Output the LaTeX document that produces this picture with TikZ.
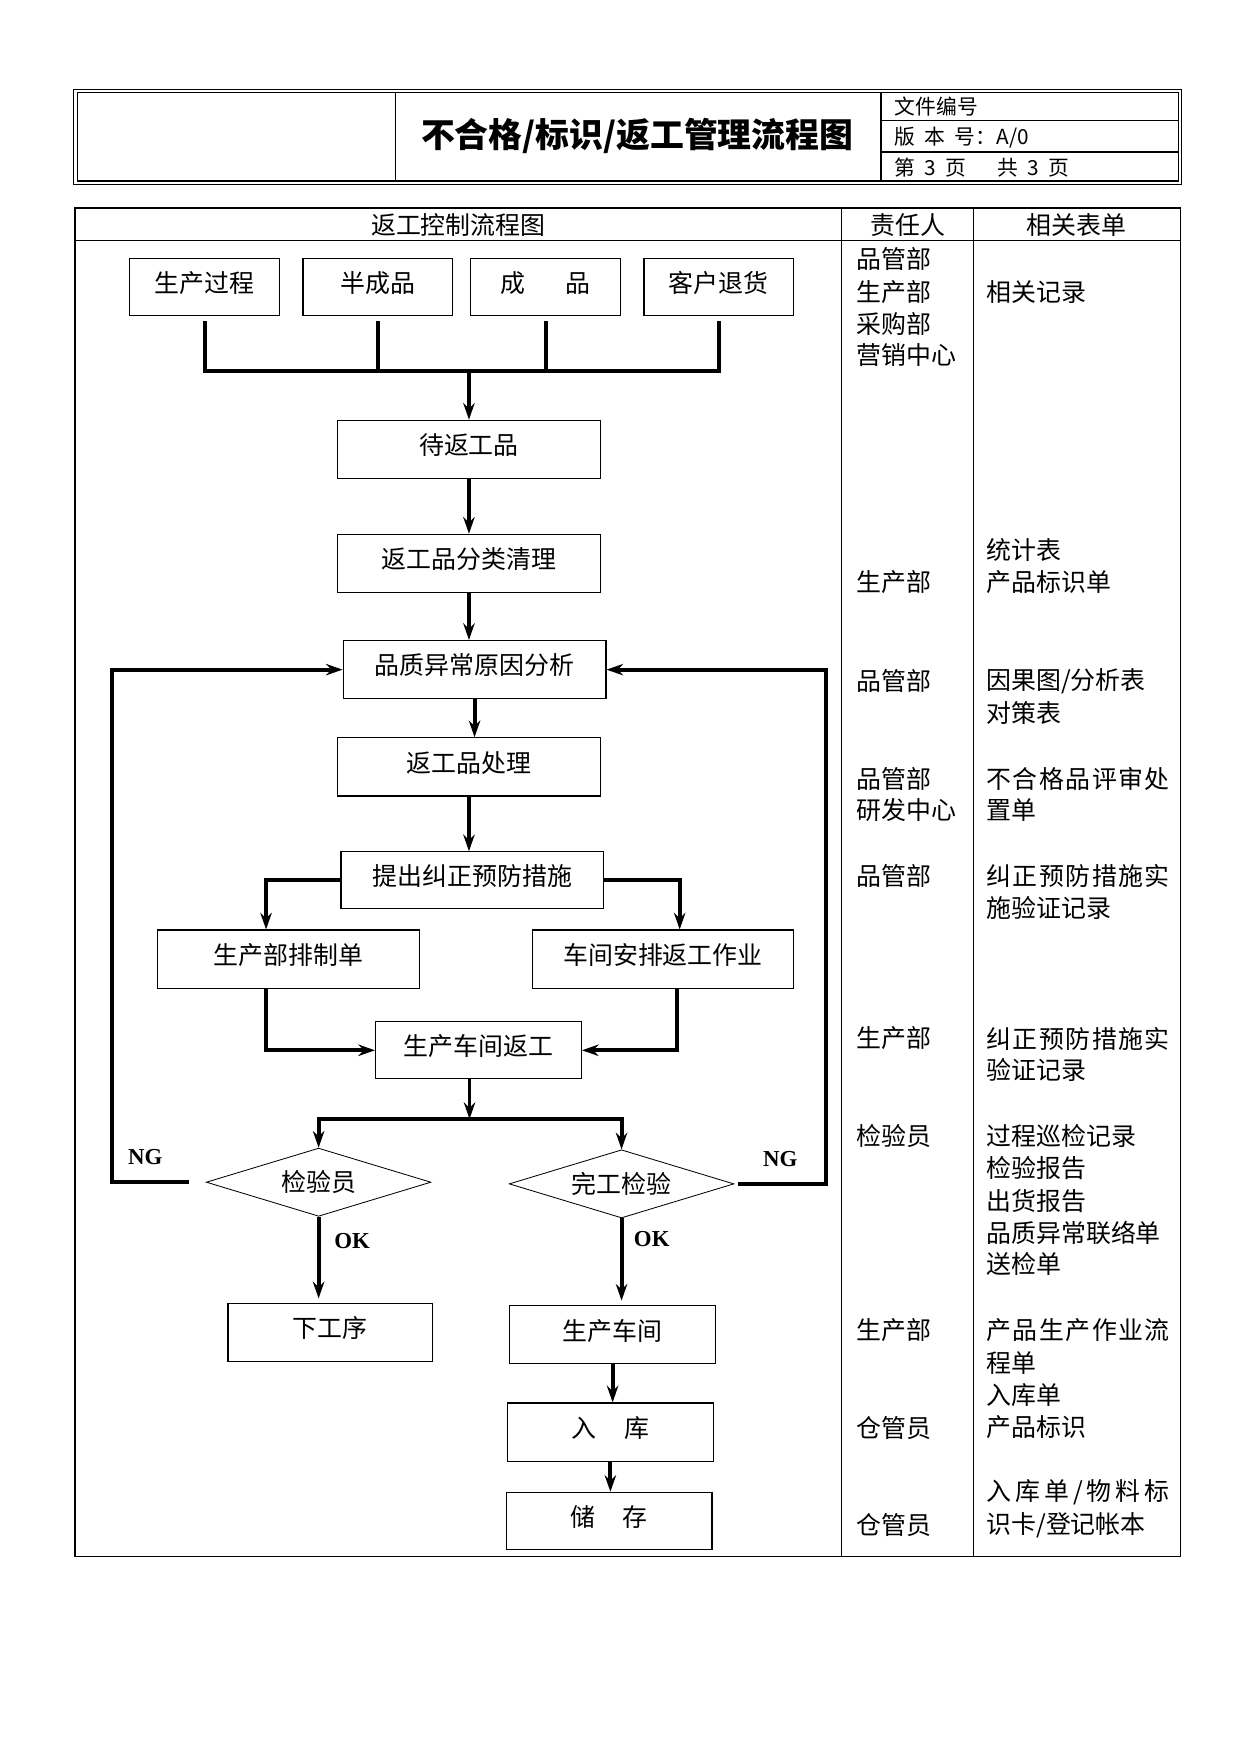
\documentclass[tikz,border=0pt]{standalone}
\usepackage{fontspec}
\setmainfont{Noto Sans CJK SC}
\newfontfamily\latinserif{Liberation Serif}
\newfontfamily\widecjk[LetterSpace=6]{Noto Sans CJK SC}
\newfontfamily\widercjk[LetterSpace=16]{Noto Sans CJK SC}
\usetikzlibrary{arrows.meta,shapes.geometric}
\newdimen\pxu
\pxu=0.018919cm
\tikzset{
    box/.style 2 args={
        draw,
        line width=0.6pt,
        inner sep=0pt,
        minimum width=#1*\pxu,
        minimum height=#2*\pxu,
        text depth=5pt,
        font=\fontsize{12}{14}\selectfont
    },
    check/.style={
        draw,
        diamond,
        aspect=3.3,
        line width=0.4pt,
        inner sep=0pt,
        minimum width=201*\pxu,
        minimum height=61*\pxu,
        font=\fontsize{12}{14}\selectfont
    },
    flow/.style={line width=1.9pt},
    arr/.style={flow, -{Stealth[length=8pt, width=5.5pt]}},
    arrboth/.style={flow, {Stealth[length=8pt, width=5.5pt]}-{Stealth[length=8pt, width=5.5pt]}},
    tag/.style={font=\latinserif\bfseries\fontsize{11}{13}\selectfont},
    cell/.style={anchor=west, inner sep=0pt, font=\fontsize{12}{14}\selectfont},
    info/.style={anchor=west, inner sep=0pt, font=\fontsize{10}{12}\selectfont}
}

\begin{document}
\begin{tikzpicture}[x=0.018919cm, y=-0.018919cm]
    \useasboundingbox (0,0) rectangle (1110,1569);

    % Header block
    \draw[line width=0.6pt] (66,80) rectangle (1057,165);
    \draw[line width=0.6pt] (69,83) rectangle (1054,162);
    \draw[line width=0.6pt] (354,83) -- (354,162) (788,83) -- (788,162)
        (788,108) -- (1054,108) (788,136) -- (1054,136);
    \node[font=\bfseries\fontsize{16.3}{20}\selectfont] (title) at (570,122) {不合格/标识/返工管理流程图};
    \node[info] (docno) at (800,95) {文件编号};
    \node[info] (ver) at (800,123) {版\hspace{0.45em}本\hspace{0.45em}号：A/0};
    \node[info] (page) at (800,150) {第\hspace{0.45em}3\hspace{0.45em}页\hspace{1.5em}共\hspace{0.45em}3\hspace{0.45em}页};

    % Table frame
    \draw[line width=0.6pt] (67,186) rectangle (1056,1392);
    \draw[line width=0.6pt] (67,215) -- (1056,215) (753,186) -- (753,1392) (871,186) -- (871,1392);
    \node[cell, anchor=center] (hflow) at (410,201) {返工控制流程图};
    \node[cell, anchor=center] (hresp) at (812,201) {责任人};
    \node[cell, anchor=center] (hform) at (963,201) {相关表单};

    % Sources
    \node[box={134}{51}] (src1) at (183,256.5) {生产过程};
    \node[box={134}{51}] (src2) at (338,256.5) {半成品};
    \node[box={134}{51}] (src3) at (488,256.5) {成\hspace{1.6em}品};
    \node[box={134}{51}] (src4) at (643,256.5) {客户退货};
    \coordinate (bus) at (421,332);
    \draw[flow] ([yshift=-5*\pxu]src1.south) -- (src1.south |- bus) -- (src4.south |- bus) -- ([yshift=-5*\pxu]src4.south);
    \draw[flow] ([yshift=-5*\pxu]src2.south) -- (src2.south |- bus);
    \draw[flow] ([yshift=-5*\pxu]src3.south) -- (src3.south |- bus);

    % Main chain
    \node[box={235}{52}] (wait) at (419.5,402) {待返工品};
    \node[box={235}{52}] (sort) at (419.5,504) {返工品分类清理};
    \node[box={235}{52}] (quality) at (424.5,599) {品质异常原因分析};
    \node[box={235}{52}] (treat) at (419.5,686) {返工品处理};
    \node[box={235}{51}] (measure) at (422.5,787.5) {提出纠正预防措施};
    \draw[arr] (wait.north |- bus) -- (wait.north);
    \draw[arr] (wait) -- (sort);
    \draw[arr] (sort.south) -- (sort.south |- quality.north);
    \draw[arr] (quality.south) -- (quality.south |- treat.north);
    \draw[arr] (treat.south) -- (treat.south |- measure.north);

    % Split and merge
    \node[box={234}{52}] (plan) at (258,858) {生产部排制单};
    \node[box={234}{52}] (arrange) at (593,858) {车间安排返工作业};
    \node[box={184}{51}] (rework) at (428,939.5) {生产车间返工};
    \draw[arr] (measure.west) -| ([xshift=-20*\pxu]plan.north);
    \draw[arr] (measure.east) -| ([xshift=15*\pxu]arrange.north);
    \draw[arr] ([xshift=-20*\pxu]plan.south) |- (rework.west);
    \draw[arr] ([xshift=13*\pxu]arrange.south) |- (rework.east);

    % Checks
    \coordinate (split) at (420,1001);
    \node[check] (chk1) at (285,1057.5) {检验员};
    \node[check] (chk2) at (556,1059) {完工检验};
    \draw[arr] ([xshift=-8*\pxu]rework.south) -- (split);
    \draw[arrboth] (chk1.north) -- (chk1.north |- split) -- (chk2.north |- split) -- (chk2.north);
    \draw[arr] ([xshift=-15*\pxu]chk1.west) -- ++(-69,0) |- (quality.west);
    \draw[arr] ([xshift=3*\pxu]chk2.east) -- ++(79,0) |- (quality.east);
    \node[tag] (ngL) at (130,1035) {NG};
    \node[tag] (ngR) at (698,1037) {NG};

    % Outputs
    \node[box={183}{52}] (next) at (295.5,1192) {下工序};
    \node[box={184}{52}] (shop) at (548,1194) {生产车间};
    \node[box={184}{52}] (store) at (546,1281) {入\hspace{1.1em}库};
    \node[box={184}{51}] (keep) at (545,1360.5) {储\hspace{1.1em}存};
    \draw[arr] (chk1.south) -- ([yshift=4*\pxu]chk1.south |- next.north);
    \draw[arr] (chk2.south) -- ([yshift=4*\pxu]chk2.south |- shop.north);
    \draw[arr] (shop.south) -- (shop.south |- store.north);
    \draw[arr] (store.south) -- (store.south |- keep.north);
    \node[tag] (okL) at (315,1110) {OK};
    \node[tag] (okR) at (583,1108) {OK};

    % Responsible column
    \foreach \y/\t [count=\i] in {232/品管部, 261/生产部, 290/采购部, 318/营销中心,
        521/生产部, 609/品管部, 697/品管部, 725/研发中心, 784/品管部, 929/生产部,
        1016/检验员, 1190/生产部, 1277/仓管员, 1364/仓管员}
        \node[cell] (resp\i) at (766,\y) {\t};

    % Forms column
    \foreach \y/\t [count=\i] in {261/相关记录, 492/统计表, 521/产品标识单,
        609/{因果图/分析表}, 638/对策表, 697/{\widecjk 不合格品评审处}, 725/置单,
        784/{\widecjk 纠正预防措施实}, 812/施验证记录, 929/{\widecjk 纠正预防措施实}, 957/验证记录,
        1016/过程巡检记录, 1045/检验报告, 1074/出货报告, 1103/品质异常联络单,
        1131/送检单, 1190/{\widecjk 产品生产作业流}, 1219/程单, 1248/入库单, 1277/产品标识,
        1335/{\widercjk 入库单/物料标}, 1364/{识卡/登记帐本}}
        \node[cell] (form\i) at (882,\y) {\t};
\end{tikzpicture}
\end{document}
